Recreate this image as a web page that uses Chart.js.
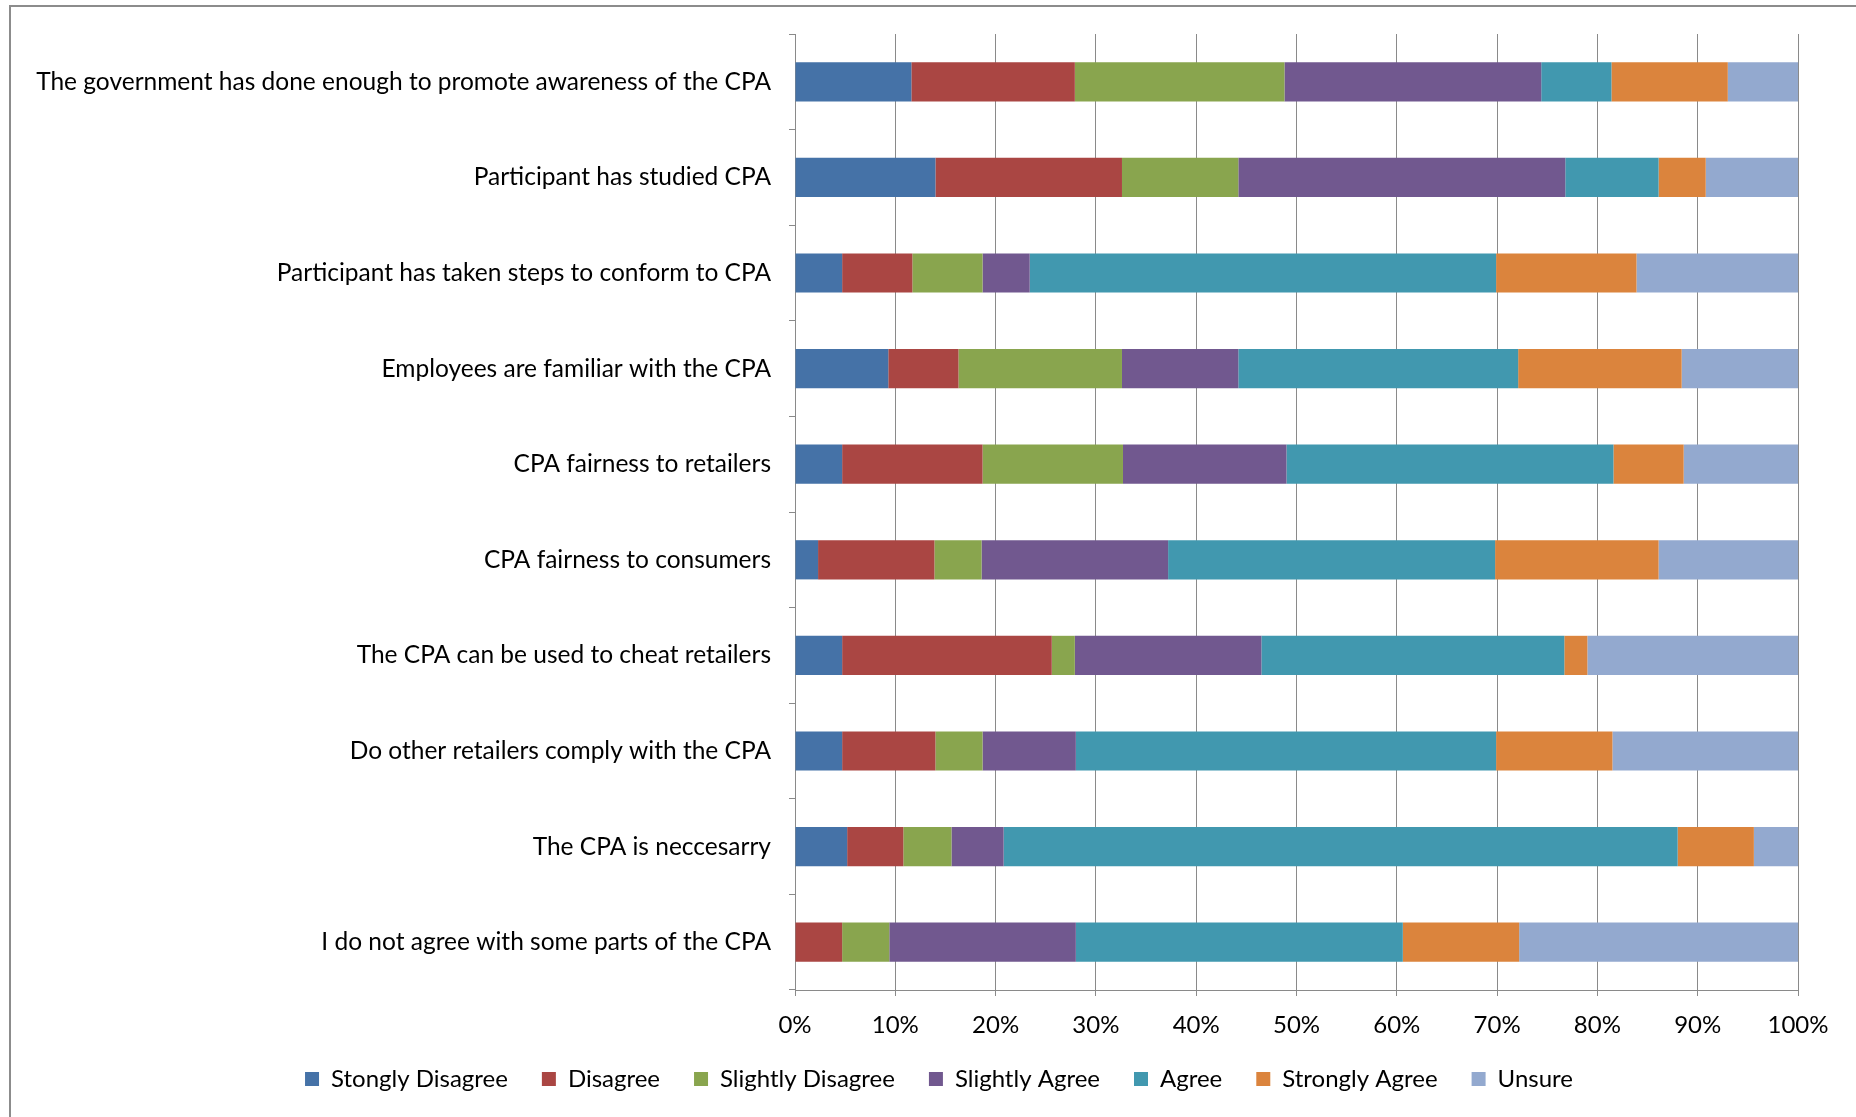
<!DOCTYPE html>
<html lang="en">
<head>
<meta charset="utf-8">
<title>CPA survey responses</title>
<script src="https://cdn.jsdelivr.net/npm/chart.js@4.4.1/dist/chart.umd.min.js"></script>
<style>
    html, body {
        margin: 0;
        padding: 0;
        background: #ffffff;
        overflow: hidden;
    }
    .frame {
        position: absolute;
        left: 9px;
        top: 5px;
        width: 1900px;
        height: 1200px;
        border-top: 2px solid #8c8c8c;
        border-left: 2px solid #8c8c8c;
    }
    .chart-wrap {
        position: absolute;
        left: 0;
        top: 0;
        width: 1856px;
        height: 1117px;
    }
</style>
</head>
<body>
<div class="frame"></div>
<div class="chart-wrap">
    <canvas id="cpaChart"></canvas>
</div>
<script>
// 설문 항목 (위에서 아래 순서)
const statements = [
    'The government has done enough to promote awareness of the CPA',
    'Participant has studied CPA',
    'Participant has taken steps to conform to CPA',
    'Employees are familiar with the CPA',
    'CPA fairness to retailers',
    'CPA fairness to consumers',
    'The CPA can be used to cheat retailers',
    'Do other retailers comply with the CPA',
    'The CPA is neccesarry',
    'I do not agree with some parts of the CPA'
];

// 응답 비율 (%), 항목 순서대로
const stonglyDisagree  = [11.6, 14.0,  4.7,  9.3,  4.7,  2.3,  4.7,  4.7,  5.2,  0.0];
const disagree         = [16.3, 18.6,  7.0,  7.0, 14.0, 11.6, 20.9,  9.3,  5.6,  4.7];
const slightlyDisagree = [20.9, 11.6,  7.0, 16.3, 14.0,  4.7,  2.3,  4.7,  4.8,  4.7];
const slightlyAgree    = [25.6, 32.6,  4.7, 11.6, 16.3, 18.6, 18.6,  9.3,  5.2, 18.6];
const agree            = [ 7.0,  9.3, 46.5, 27.9, 32.6, 32.6, 30.2, 41.9, 67.2, 32.6];
const stronglyAgree    = [11.6,  4.7, 14.0, 16.3,  7.0, 16.3,  2.3, 11.6,  7.6, 11.6];
const unsure           = [ 7.0,  9.3, 16.3, 11.6, 11.6, 14.0, 21.0, 18.6,  4.4, 27.9];

const seriesNames = ['Stongly Disagree', 'Disagree', 'Slightly Disagree', 'Slightly Agree',
                     'Agree', 'Strongly Agree', 'Unsure'];
const seriesValues = [stonglyDisagree, disagree, slightlyDisagree, slightlyAgree,
                      agree, stronglyAgree, unsure];
const seriesColors = ['#4572a7', '#aa4643', '#89a54e', '#71588f', '#4198af', '#db843d', '#93a9cf'];

const percentTicks = [0, 10, 20, 30, 40, 50, 60, 70, 80, 90, 100];

document.addEventListener('DOMContentLoaded', function() {
    const canvas = document.getElementById('cpaChart');
    const axisGray = '#8a8a8a';
    const fontFamily = "'Lato', 'Liberation Sans', sans-serif";

    // 범례를 가운데보다 조금 오른쪽으로 옮김
    const legendShift = {
        id: 'legendShift',
        afterLayout: function(chart) {
            if (chart.legend) {
                chart.legend.left += 40;
                chart.legend.right += 40;
            }
        }
    };

    const datasets = seriesNames.map(function(name, i) {
        return {
            label: name,
            data: seriesValues[i],
            backgroundColor: seriesColors[i],
            borderWidth: 0,
            barPercentage: 0.41,
            categoryPercentage: 1.0
        };
    });

    new Chart(canvas, {
        type: 'bar',
        data: {
            labels: statements,
            datasets: datasets
        },
        plugins: [legendShift],
        options: {
            indexAxis: 'y',
            responsive: true,
            maintainAspectRatio: false,
            animation: false,
            layout: {
                padding: { top: 34, right: 58, bottom: 16, left: 0 }
            },
            scales: {
                x: {
                    stacked: true,
                    min: 0,
                    max: 100,
                    afterBuildTicks: function(scale) {
                        scale.ticks = percentTicks.map(v => ({ value: v }));
                    },
                    afterFit: function(scale) {
                        scale.height = 43;
                    },
                    grid: {
                        color: axisGray,
                        lineWidth: 1,
                        tickLength: 6
                    },
                    border: { color: axisGray, width: 1 },
                    ticks: {
                        color: '#000000',
                        padding: 15,
                        maxRotation: 0,
                        font: { family: fontFamily, size: 24 },
                        callback: function(value) {
                            return value + '%';
                        }
                    }
                },
                y: {
                    stacked: true,
                    afterFit: function(scale) {
                        scale.width = 795;
                    },
                    grid: {
                        offset: true,
                        drawOnChartArea: false,
                        color: axisGray,
                        tickLength: 6
                    },
                    border: { color: axisGray, width: 1 },
                    ticks: {
                        color: '#000000',
                        padding: 18,
                        autoSkip: false,
                        font: { family: fontFamily, size: 24.5 }
                    }
                }
            },
            plugins: {
                legend: {
                    position: 'bottom',
                    labels: {
                        color: '#000000',
                        boxWidth: 14,
                        boxHeight: 14,
                        padding: 34,
                        font: { family: fontFamily, size: 24 }
                    }
                },
                tooltip: { enabled: false }
            }
        }
    });
});
</script>
</body>
</html>
